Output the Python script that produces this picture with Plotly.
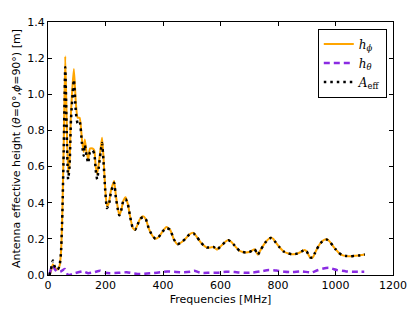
import plotly.graph_objects as go

freq = [5, 10, 17, 25, 34, 40, 45, 50, 55, 60, 65, 70, 75, 80, 90, 97, 103, 110, 118, 124, 128,
        134, 140, 146, 155, 161, 166, 171, 177, 183, 188, 193, 199, 205, 212, 218, 225, 230,
        236, 242, 248, 255, 262, 270, 278, 286, 295, 303, 312, 320, 330, 340, 350, 362, 374,
        385, 398, 412, 425, 437, 450, 463, 478, 492, 506, 518, 529, 541, 553, 565, 576, 588,
        598, 608, 618, 627, 636, 645, 656, 666, 678, 689, 700, 710, 719, 725, 730, 740, 748,
        756, 763, 775, 783, 792, 806, 820, 836, 848, 860, 872, 884, 892, 900, 906, 912, 921,
        928, 935, 945, 953, 962, 970, 980, 990, 1000, 1012, 1023, 1038, 1052, 1066, 1081,
        1092, 1102]

h_phi = [0.00, 0.02, 0.06, 0.04, 0.03, 0.05, 0.12, 0.35, 0.75, 1.21, 0.85, 0.56, 0.62, 0.90,
         1.14, 0.95, 0.87, 0.87, 0.75, 0.68, 0.75, 0.68, 0.64, 0.70, 0.70, 0.69, 0.60, 0.56,
         0.62, 0.70, 0.76, 0.65, 0.48, 0.38, 0.40, 0.46, 0.50, 0.52, 0.44, 0.38, 0.33, 0.36,
         0.41, 0.43, 0.39, 0.32, 0.26, 0.25, 0.28, 0.31, 0.325, 0.31, 0.26, 0.22, 0.20, 0.21,
         0.24, 0.265, 0.25, 0.20, 0.17, 0.18, 0.20, 0.225, 0.233, 0.21, 0.185, 0.165, 0.152,
         0.152, 0.155, 0.14, 0.155, 0.17, 0.185, 0.194, 0.185, 0.17, 0.15, 0.134, 0.127,
         0.125, 0.127, 0.135, 0.143, 0.125, 0.112, 0.14, 0.161, 0.18, 0.193, 0.207, 0.20,
         0.18, 0.152, 0.13, 0.119, 0.115, 0.116, 0.122, 0.132, 0.139, 0.13, 0.112, 0.097,
         0.097, 0.12, 0.143, 0.17, 0.185, 0.196, 0.198, 0.185, 0.163, 0.143, 0.122, 0.11,
         0.105, 0.104, 0.106, 0.108, 0.111, 0.114]

a_eff = [0.00, 0.03, 0.08, 0.04, 0.03, 0.05, 0.12, 0.34, 0.72, 1.15, 0.80, 0.53, 0.60, 0.86,
         1.08, 0.90, 0.84, 0.85, 0.73, 0.66, 0.72, 0.66, 0.62, 0.68, 0.69, 0.67, 0.58, 0.53,
         0.60, 0.68, 0.73, 0.63, 0.47, 0.37, 0.39, 0.45, 0.49, 0.51, 0.43, 0.37, 0.33, 0.36,
         0.41, 0.42, 0.39, 0.32, 0.26, 0.25, 0.28, 0.31, 0.32, 0.31, 0.26, 0.22, 0.20, 0.21,
         0.24, 0.26, 0.25, 0.20, 0.17, 0.18, 0.20, 0.225, 0.23, 0.21, 0.185, 0.165, 0.152,
         0.152, 0.155, 0.14, 0.155, 0.17, 0.185, 0.192, 0.185, 0.17, 0.15, 0.134, 0.127,
         0.125, 0.127, 0.135, 0.143, 0.125, 0.112, 0.14, 0.161, 0.18, 0.193, 0.205, 0.20,
         0.18, 0.152, 0.13, 0.119, 0.115, 0.116, 0.122, 0.132, 0.139, 0.13, 0.112, 0.097,
         0.097, 0.12, 0.143, 0.17, 0.185, 0.196, 0.196, 0.185, 0.163, 0.143, 0.122, 0.11,
         0.105, 0.104, 0.106, 0.108, 0.111, 0.114]

freq_theta = [5, 10, 17, 25, 35, 45, 58, 70, 90, 122, 140, 160, 181, 200, 216, 245, 274, 300,
              321, 345, 368, 390, 415, 445, 473, 496, 508, 532, 560, 590, 619, 650, 683, 712,
              740, 768, 795, 824, 850, 882, 917, 935, 953, 976, 1006, 1037, 1066, 1100]
h_theta = [0.00, 0.03, 0.05, 0.03, 0.016, 0.02, 0.033, 0.0, 0.008, 0.02, 0.01, 0.015, 0.024,
           0.012, 0.01, 0.012, 0.015, 0.008, 0.005, 0.008, 0.011, 0.015, 0.02, 0.017, 0.015,
           0.018, 0.024, 0.012, 0.012, 0.013, 0.018, 0.016, 0.012, 0.014, 0.02, 0.028, 0.025,
           0.018, 0.016, 0.02, 0.014, 0.025, 0.034, 0.04, 0.027, 0.02, 0.018, 0.018]

x_ticks = [0, 200, 400, 600, 800, 1000, 1200]
y_ticks = [0.0, 0.2, 0.4, 0.6, 0.8, 1.0, 1.2, 1.4]

fig = go.Figure()
fig.add_trace(go.Scatter(x=freq, y=h_phi, mode="lines", name="<i>h</i><sub><i>ϕ</i></sub>",
                         line=dict(color="#FFA500", width=2, shape="spline", smoothing=0.5)))
fig.add_trace(go.Scatter(x=freq_theta, y=h_theta, mode="lines", name="<i>h</i><sub><i>θ</i></sub>",
                         line=dict(color="#8A2BE2", width=2.5, dash="6px,4px", shape="spline", smoothing=0.5)))
fig.add_trace(go.Scatter(x=freq, y=a_eff, mode="lines", name="<i>A</i><sub>eff</sub>",
                         line=dict(color="black", width=2.5, dash="2.5px,4px", shape="spline", smoothing=0.5)))

axis_common = dict(showline=True, linecolor="black", linewidth=1, mirror="ticks",
                   ticks="inside", ticklen=4, tickcolor="black", showgrid=False, zeroline=False,
                   tickfont=dict(family="DejaVu Sans", size=11, color="black"))
fig.update_xaxes(range=[0, 1200], tickvals=x_ticks, ticktext=[str(v) for v in x_ticks],
                 title=dict(text="Frequencies [MHz]", font=dict(family="DejaVu Sans", size=11, color="black"), standoff=4),
                 **axis_common)
fig.update_yaxes(range=[0, 1.4], tickvals=y_ticks, ticktext=[f"{v:.1f}" for v in y_ticks],
                 title=dict(text="Antenna effective height (<i>θ</i>=0°,<i>ϕ</i>=90°) [m]",
                            font=dict(family="DejaVu Sans", size=11, color="black"), standoff=4),
                 **axis_common)

fig.update_layout(
    width=407, height=304,
    margin=dict(l=40, r=17, t=8, b=33),
    paper_bgcolor="white", plot_bgcolor="white",
    legend=dict(x=0.982, y=0.974, xanchor="right", yanchor="top",
                bordercolor="black", borderwidth=1, bgcolor="white",
                font=dict(family="DejaVu Serif", size=12, color="black"),
                tracegroupgap=0, itemwidth=30),
    showlegend=True,
)

fig.write_html("out.html")
